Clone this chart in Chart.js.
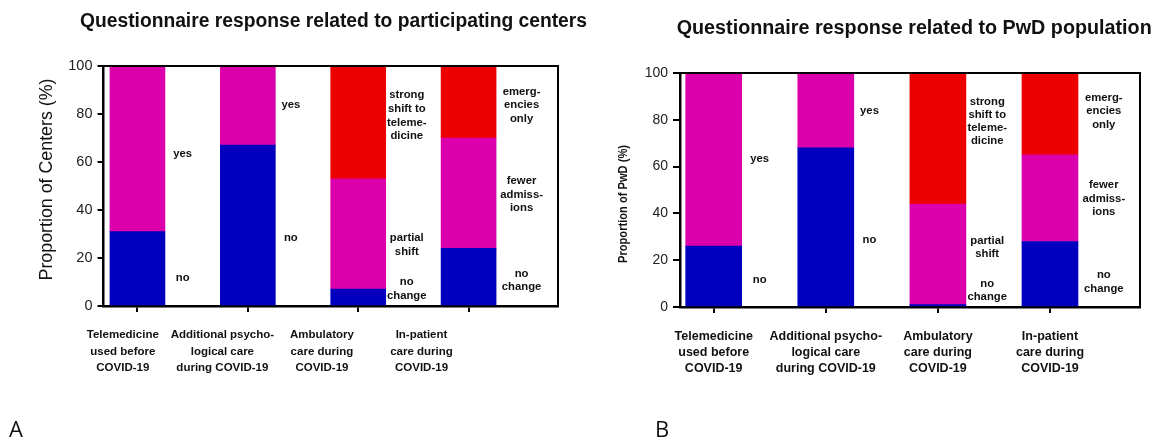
<!DOCTYPE html>
<html>
<head>
<meta charset="utf-8">
<script src="https://cdn.jsdelivr.net/npm/chart.js@4"></script>
<style>
  html, body { margin: 0; padding: 0; background: #fff; }
  #page { position: relative; width: 1155px; height: 440px; overflow: hidden; }
  canvas { position: absolute; top: 0; }
  #chartA { left: 0; }
  #chartB { left: 600px; }
  .panel { position: absolute; font-family: 'Open Sans', 'Liberation Sans', sans-serif; font-size: 22px; line-height: 1; color: #111; }
</style>
</head>
<body>
<div id="page">
  <canvas id="chartA" width="600" height="440"></canvas>
  <canvas id="chartB" width="555" height="440"></canvas>
  <div class="panel" style="left:9px; top:417px;">A</div>
  <div class="panel" style="left:655px; top:417px;">B</div>
</div>
<script>
// Questionnaire items (x axis), one bar each
const categories = [
  ['Telemedicine', 'used before', 'COVID-19'],
  ['Additional psycho-', 'logical care', 'during COVID-19'],
  ['Ambulatory', 'care during', 'COVID-19'],
  ['In-patient', 'care during', 'COVID-19']
];
const yTicks = [0, 20, 40, 60, 80, 100];

// Participating centres, % (bottom / middle / top segment of each bar)
const centersLower  = [31, 67, 7, 24];
const centersMiddle = [69, 33, 46, 46];
const centersUpper  = [0, 0, 47, 30];

// People with diabetes, % (bottom / middle / top segment of each bar)
const pwdLower  = [26, 68, 1, 28];
const pwdMiddle = [74, 32, 43, 37];
const pwdUpper  = [0, 0, 56, 35];

// Captions written beside each bar, bottom segment first
const segmentCaptions = [
  [['no'], ['yes']],
  [['no'], ['yes']],
  [['no', 'change'], ['partial', 'shift'], ['strong', 'shift to', 'teleme-', 'dicine']],
  [['no', 'change'], ['fewer', 'admiss-', 'ions'], ['emerg-', 'encies', 'only']]
];
// Caption anchors in axis units (x: item axis, y: percent axis)
const captionX = [0.41, 1.39, 2.44, 3.48];
const captionY = [[11.8, 63.5], [28.5, 83.7], [7, 25.5, 79.3], [10.7, 46.4, 83.6]];

const BLUE = '#0000BE', MAGENTA = '#DC00AC', RED = '#EC0000';
const FONT = "'Liberation Sans', Arial, Helvetica, sans-serif";
Chart.defaults.font.family = FONT;
Chart.defaults.color = '#111';

function fittedText(ctx, text, x, y, font, length, angle) {
  ctx.save();
  ctx.font = font;
  const w = ctx.measureText(text).width;
  ctx.translate(x, y);
  ctx.rotate(angle || 0);
  ctx.scale(length / w, 1);
  ctx.textAlign = 'center';
  ctx.textBaseline = 'alphabetic';
  ctx.fillStyle = '#111';
  ctx.fillText(text, 0, 0);
  ctx.restore();
}

// Frame, captions and titles drawn on top of the bars
const decorations = {
  id: 'decorations',
  afterDraw(chart, args, o) {
    const ctx = chart.ctx;
    const a = chart.chartArea;
    const xs = chart.scales.x, ys = chart.scales.y;

    ctx.save();
    ctx.strokeStyle = '#000';
    ctx.lineWidth = 2;
    ctx.beginPath();
    ctx.moveTo(a.left, a.top);
    ctx.lineTo(a.right, a.top);
    ctx.lineTo(a.right, a.bottom);
    ctx.stroke();

    ctx.font = 'bold ' + o.captionSize + 'px ' + FONT;
    ctx.fillStyle = '#111';
    ctx.textAlign = 'center';
    ctx.textBaseline = 'middle';
    segmentCaptions.forEach((segs, j) => {
      const cx = xs.getPixelForValue(captionX[j]);
      segs.forEach((lines, k) => {
        const cy = ys.getPixelForValue(captionY[j][k]);
        lines.forEach((line, i) => {
          ctx.fillText(line, cx, cy + (i - (lines.length - 1) / 2) * o.captionLine);
        });
      });
    });
    ctx.restore();

    fittedText(ctx, o.title, o.titleX, o.titleY, 'bold 19.5px ' + FONT, o.titleLen, 0);
    fittedText(ctx, o.yTitle, o.yTitleX, o.yTitleY, o.yTitleFont, o.yTitleLen, -Math.PI / 2);
  }
};

function makeChart(id, lower, middle, upper, c) {
  const pts = arr => arr.map((v, i) => ({ x: i, y: v }));
  const idxTicks = s => { s.ticks = categories.map((_, i) => ({ value: i })); };
  return new Chart(document.getElementById(id), {
    type: 'bar',
    data: {
      datasets: [
        { data: pts(lower),  backgroundColor: BLUE,    barThickness: c.barWidth, borderWidth: 0 },
        { data: pts(middle), backgroundColor: MAGENTA, barThickness: c.barWidth, borderWidth: 0 },
        { data: pts(upper),  backgroundColor: RED,     barThickness: c.barWidth, borderWidth: 0 }
      ]
    },
    options: {
      responsive: false,
      animation: false,
      events: [],
      layout: { padding: { top: c.top, right: c.right, left: 0, bottom: 0 } },
      plugins: {
        legend: { display: false },
        tooltip: { enabled: false },
        decorations: c.deco
      },
      scales: {
        x: {
          type: 'linear', min: c.xMin, max: c.xMax, offset: false, stacked: true, weight: 1, z: 1,
          afterBuildTicks: idxTicks,
          afterFit: s => { s.height = 7; },
          ticks: { display: false },
          grid: { display: true, offset: false, drawOnChartArea: false, drawTicks: true, tickLength: 6, color: '#000', lineWidth: 2 },
          border: { display: true, color: '#000', width: 2.5 }
        },
        x2: {
          type: 'linear', position: 'bottom', min: c.lMin, max: c.lMax, offset: false, weight: 2,
          afterBuildTicks: idxTicks,
          afterFit: s => { s.height = c.labelBox; },
          ticks: {
            callback: v => categories[v],
            autoSkip: false, maxRotation: 0, minRotation: 0,
            padding: c.labelPad, color: '#111',
            font: { size: c.labelSize, weight: 'bold', lineHeight: c.labelLine + 'px' }
          },
          grid: { display: false, offset: false, drawTicks: false },
          border: { display: false }
        },
        y: {
          min: 0, max: 100, stacked: true, z: 1,
          afterBuildTicks: s => { s.ticks = yTicks.map(v => ({ value: v })); },
          afterFit: s => { s.width = c.yWidth; },
          ticks: { padding: c.yPad, color: '#222', font: { size: c.ySize } },
          grid: { display: true, drawOnChartArea: false, drawTicks: true, tickLength: c.yTick, color: '#000', lineWidth: 2 },
          border: { display: true, color: '#000', width: 2.5 }
        }
      }
    },
    plugins: [decorations]
  });
}

makeChart('chartA', centersLower, centersMiddle, centersUpper, {
  barWidth: 55, top: 66, right: 42,
  xMin: -0.312, xMax: 3.81, lMin: -0.199, lMax: 4.371,
  labelBox: 127, labelPad: 13.75, labelSize: 11.5, labelLine: 16.5,
  yWidth: 103, yPad: 5, ySize: 14.5, yTick: 5.5,
  deco: {
    captionSize: 11.3, captionLine: 13.7,
    title: 'Questionnaire response related to participating centers',
    titleX: 333.5, titleY: 26.7, titleLen: 507,
    yTitle: 'Proportion of Centers (%)', yTitleFont: '18px ' + FONT,
    yTitleX: 51.6, yTitleY: 179.5, yTitleLen: 202
  }
});

makeChart('chartB', pwdLower, pwdMiddle, pwdUpper, {
  barWidth: 56, top: 73, right: 15,
  xMin: -0.3006, xMax: 3.803, lMin: -0.3006, lMax: 3.803,
  labelBox: 126, labelPad: 14.7, labelSize: 12.5, labelLine: 16,
  yWidth: 80, yPad: 5, ySize: 14, yTick: 7,
  deco: {
    captionSize: 11.3, captionLine: 13.2,
    title: 'Questionnaire response related to PwD population',
    titleX: 314.2, titleY: 34.3, titleLen: 475,
    yTitle: 'Proportion of PwD (%)', yTitleFont: 'bold 12.5px ' + FONT,
    yTitleX: 26.7, yTitleY: 204, yTitleLen: 118
  }
});
</script>
</body>
</html>
